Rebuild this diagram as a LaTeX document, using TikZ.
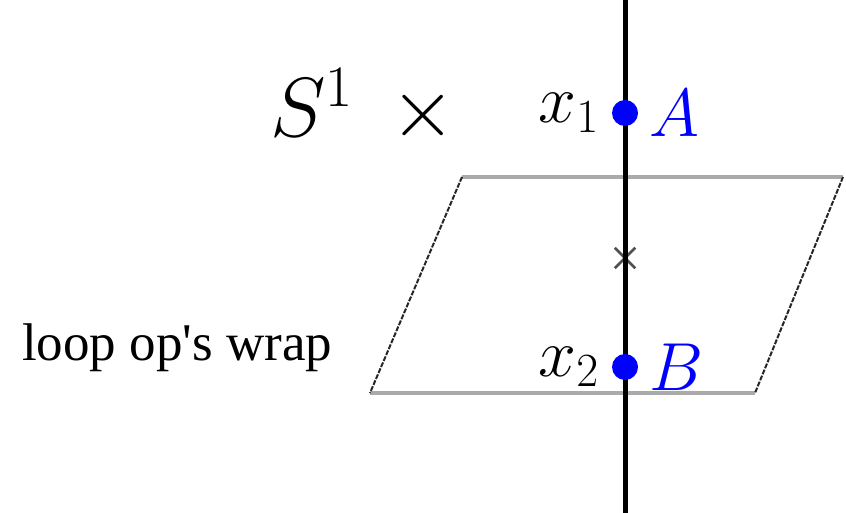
\documentclass[tikz,border=0pt]{standalone}
\usepackage{fix-cm}
\usepackage{fontspec}
\newfontfamily\wrapfont{Liberation Serif}
\usepackage{xcolor}
\definecolor{ptblue}{RGB}{0,0,255}
\definecolor{rimgray}{RGB}{170,170,170}
\definecolor{xgray}{RGB}{80,80,80}
\usetikzlibrary{positioning,shapes.misc}

\begin{document}
\begin{tikzpicture}[
  x=1pt,y=-1pt,
  pt/.style={circle,fill=ptblue,inner sep=0pt,minimum size=26pt},
  lab/.style={inner sep=0pt,font=\fontsize{68}{70}\selectfont},
  plab/.style={lab,text=ptblue},
  rim/.style={rimgray,line width=4.5pt},
  side/.style={black!85,line width=2pt,dash pattern=on 5pt off 1.5pt},
  wline/.style={black,line width=5pt},
  mark x/.style={draw=xgray,cross out,line width=2.5pt,minimum size=18pt,inner sep=0pt}
]
  \useasboundingbox (0,0) rectangle (846,513);

  % === Plane ===
  \coordinate (p1) at (462,177);
  \coordinate (p2) at (843,177);
  \coordinate (p3) at (755,393);
  \coordinate (p4) at (370,393);
  \draw[rim] (p1) -- (p2);
  \draw[rim] (p4) -- (p3);
  \draw[side] (p1) -- (p4);
  \draw[side] (p2) -- (p3);
  \node[mark x] (mid) at (625,258) {};

  % === Circle direction ===
  \coordinate (top) at (625,0);
  \coordinate (bot) at (625,513);
  \draw[wline] (top) -- (bot);

  % === Points ===
  \node[pt] (ptA) at (625,113) {};
  \node[pt] (ptB) at (625,367) {};
  \node[lab,left=13pt of ptA] (xone) {$x_1$};
  \node[lab,left=13pt of ptB] (xtwo) {$x_2$};
  \node[plab,right=11pt of ptA] (labA) {$A$};
  \node[plab,right=11pt of ptB] (labB) {$B$};

  % === Labels ===
  \node[inner sep=0pt,font=\fontsize{84}{86}\selectfont] (sone) at (363,106) {$S^1\;\,\times$};
  \node[anchor=west,inner sep=0pt,font=\wrapfont\fontsize{53}{55}\selectfont] (wrap) at (22,348) {loop op\textquotesingle s wrap};
\end{tikzpicture}
\end{document}
